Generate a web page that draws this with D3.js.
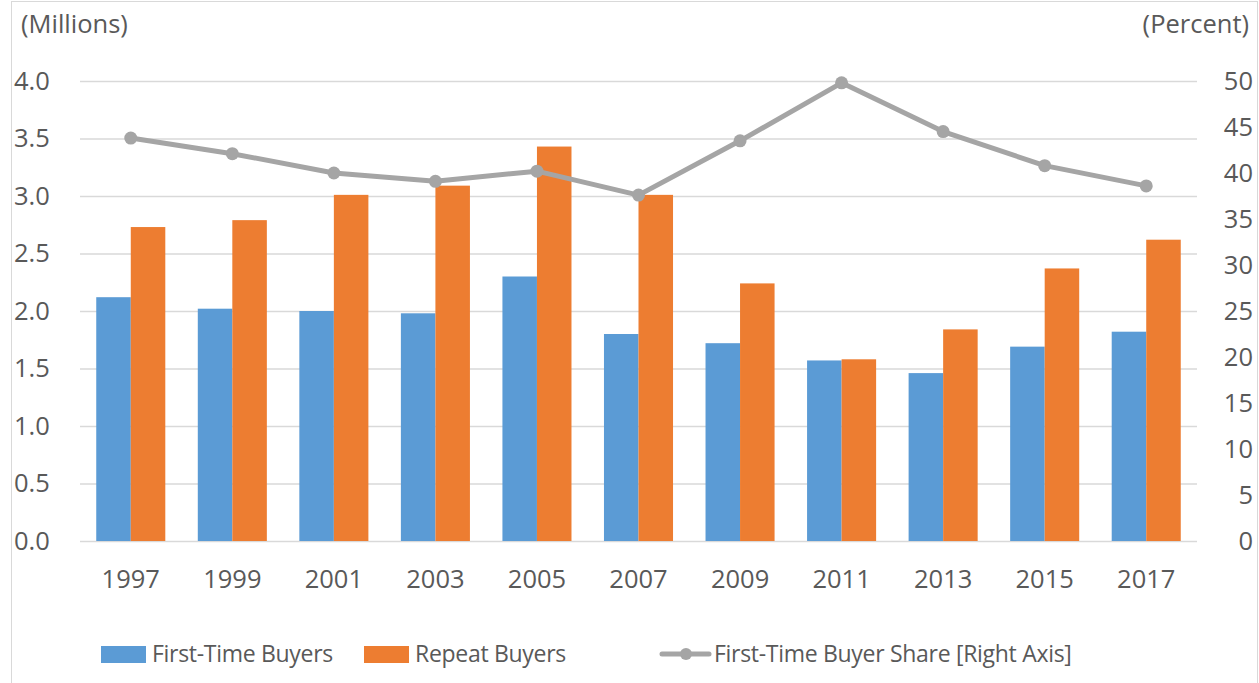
<!DOCTYPE html>
<html><head><meta charset="utf-8">
<script src="https://cdn.jsdelivr.net/npm/d3@7"></script>
<style>body{margin:0;background:#fff;font-family:"Open Sans","Noto Sans",sans-serif;}</style>
</head><body><svg id="c" width="1259" height="683"></svg>
<script>
const years = ["1997","1999","2001","2003","2005","2007","2009","2011","2013","2015","2017"];
const firstTime = [2.12,2.02,2.00,1.98,2.30,1.80,1.72,1.57,1.46,1.69,1.82];
const repeat = [2.73,2.79,3.01,3.09,3.43,3.01,2.24,1.58,1.84,2.37,2.62];
const share = [43.8,42.1,40.0,39.1,40.2,37.6,43.5,49.8,44.5,40.8,38.6];
const leftTicks = [0,0.5,1,1.5,2,2.5,3,3.5,4];
const rightTicks = [0,5,10,15,20,25,30,35,40,45,50];

const svg = d3.select("#c");
const txt = "#595959", font = "'Open Sans','Noto Sans',sans-serif", fs = "25.5px", lfs = "23px";
svg.append("rect").attr("x",11.5).attr("y",1.5).attr("width",1246).attr("height",690).attr("fill","#fff").attr("stroke","#d9d9d9");
const L=80,R=1197,T=81,B=541;
const x = d3.scaleBand().domain(years).range([L,R]).paddingInner(0.32).paddingOuter(0.16);
const xs = d3.scaleBand().domain(["f","r"]).range([0,x.bandwidth()]);
const y = d3.scaleLinear().domain([0,4]).range([B,T]);
const y2 = d3.scaleLinear().domain([0,50]).range([B,T]);

svg.append("g").selectAll("line").data(leftTicks).join("line")
  .attr("x1",L).attr("x2",R).attr("y1",d=>y(d)+0.5).attr("y2",d=>y(d)+0.5)
  .attr("stroke","#d9d9d9").attr("stroke-width",1.3);

const gl = svg.append("g").attr("transform",`translate(${L-10},0)`).call(d3.axisLeft(y).tickValues(leftTicks).tickFormat(d3.format(".1f")).tickSize(0));
gl.select(".domain").remove();
gl.selectAll("text").attr("fill",txt).style("font-size",fs).style("font-family",font).attr("x",-(L-10-14)).attr("text-anchor","start");
const gr = svg.append("g").attr("transform",`translate(${R+20},0)`).call(d3.axisRight(y2).tickValues(rightTicks).tickSize(0));
gr.select(".domain").remove();
gr.selectAll("text").attr("fill",txt).style("font-size",fs).style("font-family",font).attr("x",36).attr("text-anchor","end");
const gx = svg.append("g").attr("transform",`translate(0,${B+25})`).call(d3.axisBottom(x).tickSize(0));
gx.select(".domain").remove();
gx.selectAll("text").attr("fill",txt).style("font-size",fs).style("font-family",font).attr("dy","0.75em");

svg.append("text").attr("x",21).attr("y",33).attr("fill",txt).style("font-size",fs).style("font-family",font).text("(Millions)");
svg.append("text").attr("x",1249).attr("y",33).attr("text-anchor","end").attr("fill",txt).style("font-size",fs).style("font-family",font).text("(Percent)");

const g = svg.append("g");
g.selectAll(".f").data(years).join("rect").attr("x",d=>x(d)+xs("f")).attr("width",xs.bandwidth())
  .attr("y",(d,i)=>y(firstTime[i])).attr("height",(d,i)=>B-y(firstTime[i])).attr("fill","#5b9bd5");
g.selectAll(".r").data(years).join("rect").attr("x",d=>x(d)+xs("r")).attr("width",xs.bandwidth())
  .attr("y",(d,i)=>y(repeat[i])).attr("height",(d,i)=>B-y(repeat[i])).attr("fill","#ed7d31");

const cx = d=>x(d)+x.bandwidth()/2;
svg.append("path").datum(years).attr("fill","none").attr("stroke","#a5a5a5").attr("stroke-width",5).attr("stroke-linejoin","round")
  .attr("d",d3.line().x(d=>cx(d)).y((d,i)=>y2(share[i])));
svg.append("g").selectAll("circle").data(years).join("circle").attr("cx",cx).attr("cy",(d,i)=>y2(share[i])).attr("r",6.5).attr("fill","#a5a5a5");

const ly = 654;
const lg = svg.append("g");
lg.append("rect").attr("x",101).attr("y",646).attr("width",45).attr("height",17).attr("fill","#5b9bd5");
lg.append("text").attr("x",152).attr("y",ly).attr("dy","0.35em").attr("fill",txt).style("font-size",lfs).style("font-family",font).style("letter-spacing","-0.3px").text("First-Time Buyers");
lg.append("rect").attr("x",364).attr("y",646).attr("width",45).attr("height",17).attr("fill","#ed7d31");
lg.append("text").attr("x",415).attr("y",ly).attr("dy","0.35em").attr("fill",txt).style("font-size",lfs).style("font-family",font).style("letter-spacing","-0.3px").text("Repeat Buyers");
lg.append("line").attr("x1",662).attr("x2",709).attr("y1",ly).attr("y2",ly).attr("stroke","#a5a5a5").attr("stroke-width",5).attr("stroke-linecap","round");
lg.append("circle").attr("cx",686).attr("cy",ly).attr("r",6).attr("fill","#a5a5a5");
lg.append("text").attr("x",714).attr("y",ly).attr("dy","0.35em").attr("fill",txt).style("font-size",lfs).style("font-family",font).style("letter-spacing","-0.3px").text("First-Time Buyer Share [Right Axis]");
</script></body></html>
